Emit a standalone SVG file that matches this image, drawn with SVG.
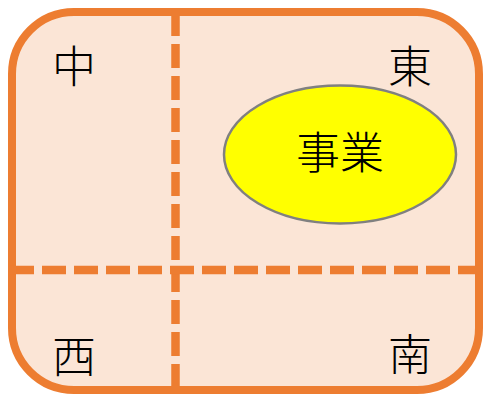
<svg xmlns="http://www.w3.org/2000/svg" width="486" height="394" viewBox="0 0 486 394">
<style>
.lbl{font-family:"Noto Sans CJK JP","Noto Sans CJK SC",sans-serif;font-size:44px;font-weight:300;fill:#000;text-anchor:middle}
.dash{stroke:#ED7D31;stroke-width:8.5;stroke-dasharray:24 8;fill:none}
</style>
<rect x="0" y="0" width="486" height="394" fill="#fff"/>
<g id="frame">
<rect x="12" y="12" width="467" height="378" rx="62" ry="62" fill="#FBE5D6" stroke="#ED7D31" stroke-width="8"/>
</g>
<g id="connectors">
<line class="dash" x1="175.5" y1="12" x2="175.5" y2="390"/>
<line class="dash" x1="10" y1="270" x2="479" y2="270"/>
</g>
<g id="naka"><text class="lbl" x="74" y="83">中</text></g>
<g id="higashi"><text class="lbl" x="410" y="83">東</text></g>
<g id="nishi"><text class="lbl" x="74" y="373">西</text></g>
<g id="minami"><text class="lbl" x="410" y="371">南</text></g>
<g id="jigyou">
<ellipse cx="340" cy="154.5" rx="116" ry="69" fill="#FFFF00" stroke="#808080" stroke-width="2.5"/>
<text class="lbl" x="340" y="169">事業</text>
</g>
</svg>
